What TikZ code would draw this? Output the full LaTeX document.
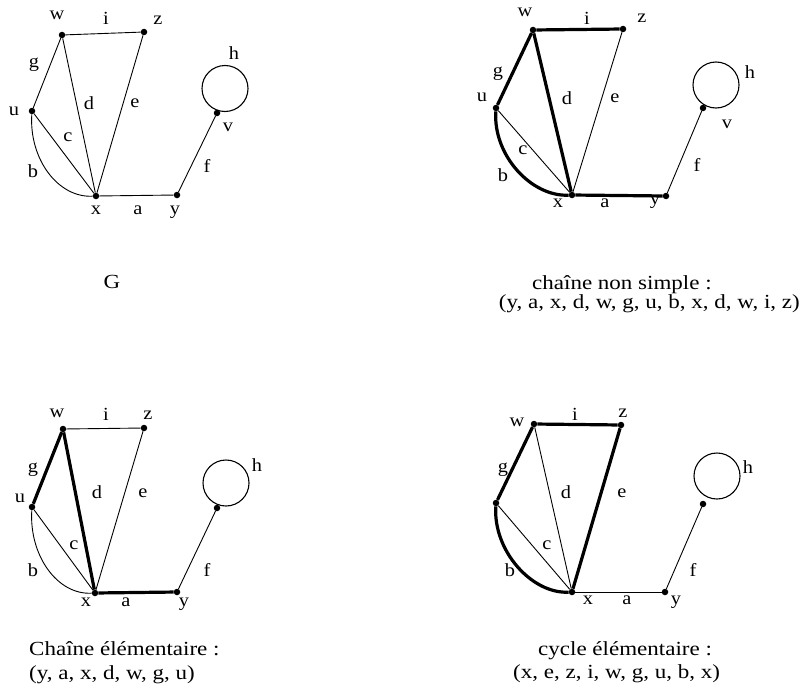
\documentclass[tikz,border=0pt]{standalone}
\usepackage{fontspec}
\setmainfont{Liberation Serif}
\newfontfamily\labfont[FakeStretch=1.1]{Liberation Serif}
\newfontfamily\capfont[FakeStretch=1.15]{Liberation Serif}
\usetikzlibrary{calc}
\tikzset{
  dot/.style={circle, fill=black, inner sep=0pt, minimum size=6.5pt},
  loopc/.style={circle, draw=black, line width=1.1pt, inner sep=0pt, minimum size=46pt},
  thinE/.style={line width=0.9pt},
  thickE/.style={line width=3.2pt},
  lbl/.style={inner sep=0pt, font=\labfont\fontsize{18.5}{19}\selectfont},
  captxt/.style={inner sep=0pt, font=\capfont\fontsize{20}{22}\selectfont},
}
\begin{document}
\begin{tikzpicture}[x=1pt,y=-1pt]
\useasboundingbox (0,0) rectangle (802,693);
% ---------------- Graph G (top left)
\node[dot] (Aw) at (62,35) {};
\node[dot] (Az) at (144,32) {};
\node[dot] (Au) at (32,111) {};
\node[dot] (Ax) at (96,196) {};
\node[dot] (Ay) at (177,195) {};
\node[dot] (Av) at (217,113) {};
\node[loopc] (Ah) at (225,88.5) {};
\draw[thinE] (Aw) -- (Az);
\draw[thinE] (Aw) -- (Au);
\draw[thinE] (Aw) -- (Ax);
\draw[thinE] (Az) -- (Ax);
\draw[thinE] (Au) -- (Ax);
\draw[thinE] (Au) .. controls ($(Au)+(-3,48)$) and ($(Ax)+(-38,2)$) .. (Ax);
\draw[thinE] (Ax) -- (Ay);
\draw[thinE] (Ay) -- (Av);
\node[lbl] (Alw) at (57,15) {w};
\node[lbl] (Ali) at (106,18) {i};
\node[lbl] (Alz) at (158,20) {z};
\node[lbl] (Alg) at (34,65) {g};
\node[lbl] (Alu) at (14,111) {u};
\node[lbl] (Ald) at (89,103) {d};
\node[lbl] (Ale) at (135,103) {e};
\node[lbl] (Alc) at (68,137) {c};
\node[lbl] (Alb) at (33,171) {b};
\node[lbl] (Alx) at (96,210) {x};
\node[lbl] (Ala) at (138,210) {a};
\node[lbl] (Aly) at (175,212) {y};
\node[lbl] (Alf) at (207,166) {f};
\node[lbl] (Alv) at (228,127) {v};
\node[lbl] (Alh) at (234,53) {h};
% ---------------- chaine non simple (top right)
\node[dot] (Bw) at (533,30) {};
\node[dot] (Bz) at (623,29) {};
\node[dot] (Bu) at (496,108) {};
\node[dot] (Bx) at (572,195) {};
\node[dot] (By) at (666,196) {};
\node[dot] (Bv) at (703,108) {};
\node[loopc] (Bh) at (716,85) {};
\draw[thickE] (Bw) -- (Bz);
\draw[thickE] (Bw) -- (Bu);
\draw[thickE] (Bw) -- (Bx);
\draw[thinE] (Bz) -- (Bx);
\draw[thinE] (Bu) -- (Bx);
\draw[thickE] (Bu) .. controls ($(Bu)+(-3,48)$) and ($(Bx)+(-40,2)$) .. (Bx);
\draw[thickE] (Bx) -- (By);
\draw[thinE] (By) -- (Bv);
\node[lbl] (Blw) at (525,12) {w};
\node[lbl] (Bli) at (587,18) {i};
\node[lbl] (Blz) at (642,18) {z};
\node[lbl] (Blg) at (498,74) {g};
\node[lbl] (Blu) at (482,97) {u};
\node[lbl] (Bld) at (567,98) {d};
\node[lbl] (Ble) at (615,98) {e};
\node[lbl] (Blc) at (523,150) {c};
\node[lbl] (Blb) at (503,175) {b};
\node[lbl] (Blx) at (558,203) {x};
\node[lbl] (Bla) at (605,203) {a};
\node[lbl] (Bly) at (655,202) {y};
\node[lbl] (Blf) at (697,165) {f};
\node[lbl] (Blv) at (727,124) {v};
\node[lbl] (Blh) at (750,72) {h};
% ---------------- chaine elementaire (bottom left)
\node[dot] (Cw) at (63,429) {};
\node[dot] (Cz) at (144,428) {};
\node[dot] (Cu) at (32,507) {};
\node[dot] (Cx) at (95,593) {};
\node[dot] (Cy) at (177,592) {};
\node[dot] (Cv) at (217,508) {};
\node[loopc] (Ch) at (226,483) {};
\draw[thinE] (Cw) -- (Cz);
\draw[thickE] (Cw) -- (Cu);
\draw[thickE] (Cw) -- (Cx);
\draw[thinE] (Cz) -- (Cx);
\draw[thinE] (Cu) -- (Cx);
\draw[thinE] (Cu) .. controls ($(Cu)+(-3,48)$) and ($(Cx)+(-38,2)$) .. (Cx);
\draw[thickE] (Cx) -- (Cy);
\draw[thinE] (Cy) -- (Cv);
\node[lbl] (Clw) at (57,413) {w};
\node[lbl] (Cli) at (106,414) {i};
\node[lbl] (Clz) at (148,415) {z};
\node[lbl] (Clg) at (33,470) {g};
\node[lbl] (Clu) at (20,498) {u};
\node[lbl] (Cld) at (97,492) {d};
\node[lbl] (Cle) at (143,493) {e};
\node[lbl] (Clc) at (74,545) {c};
\node[lbl] (Clb) at (33,570) {b};
\node[lbl] (Clx) at (86,602) {x};
\node[lbl] (Cla) at (126,602) {a};
\node[lbl] (Cly) at (184,604) {y};
\node[lbl] (Clf) at (207,570) {f};
\node[lbl] (Clh) at (257,465) {h};
% ---------------- cycle elementaire (bottom right)
\node[dot] (Dw) at (534,424) {};
\node[dot] (Dz) at (621,425) {};
\node[dot] (Du) at (496,503) {};
\node[dot] (Dx) at (572,592) {};
\node[dot] (Dy) at (665,592) {};
\node[dot] (Dv) at (703,504) {};
\node[loopc] (Dh) at (717,476) {};
\draw[thickE] (Dw) -- (Dz);
\draw[thickE] (Dw) -- (Du);
\draw[thinE] (Dw) -- (Dx);
\draw[thickE] (Dz) -- (Dx);
\draw[thinE] (Du) -- (Dx);
\draw[thickE] (Du) .. controls ($(Du)+(-3,48)$) and ($(Dx)+(-40,2)$) .. (Dx);
\draw[thinE] (Dx) -- (Dy);
\draw[thinE] (Dy) -- (Dv);
\node[lbl] (Dlw) at (517,422) {w};
\node[lbl] (Dli) at (575,414) {i};
\node[lbl] (Dlz) at (623,413) {z};
\node[lbl] (Dlg) at (503,470) {g};
\node[lbl] (Dld) at (566,492) {d};
\node[lbl] (Dle) at (622,493) {e};
\node[lbl] (Dlc) at (547,545) {c};
\node[lbl] (Dlb) at (510,570) {b};
\node[lbl] (Dlx) at (588,600) {x};
\node[lbl] (Dla) at (627,600) {a};
\node[lbl] (Dly) at (676,602) {y};
\node[lbl] (Dlf) at (693,570) {f};
\node[lbl] (Dlh) at (748,467) {h};
% ---------------- captions
\node[captxt, anchor=base] (capG) at (112,288) {G};
\node[captxt, anchor=base west] (capB1) at (532,289) {chaîne non simple :};
\node[captxt, anchor=base east] (capB2) at (800,308) {(y, a, x, d, w, g, u, b, x, d, w, i, z)};
\node[captxt, anchor=base west] (capC1) at (29,655) {Chaîne élémentaire :};
\node[captxt, anchor=base west] (capC2) at (29,679) {(y, a, x, d, w, g, u)};
\node[captxt, anchor=base west] (capD1) at (538,655) {cycle élémentaire :};
\node[captxt, anchor=base west] (capD2) at (513,678) {(x, e, z, i, w, g, u, b, x)};
\end{tikzpicture}
\end{document}
